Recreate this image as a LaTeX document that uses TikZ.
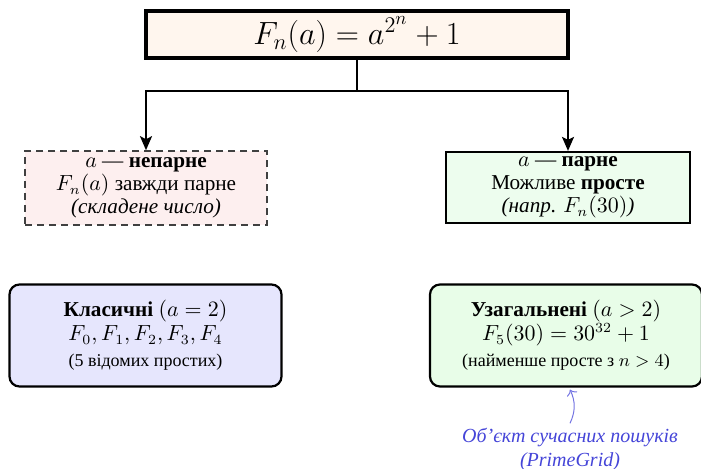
\documentclass[tikz,border=0pt]{standalone}
\usepackage[no-math]{fontspec}
\usepackage{graphicx}
\setmainfont{Liberation Serif}
\usetikzlibrary{arrows.meta,calc}
\definecolor{topfill}{HTML}{FFF6EE}
\definecolor{oddfill}{HTML}{FDEFEF}
\definecolor{evenfill}{HTML}{EDFDEE}
\definecolor{classfill}{HTML}{E6E6FD}
\definecolor{genfill}{HTML}{E8FDE8}
\definecolor{annblue}{HTML}{4545D8}
\tikzset{
  topbox/.style={draw=black, line width=2pt, fill=topfill, minimum width=211pt, minimum height=23.5pt, inner sep=0pt},
  oddbox/.style={draw=black!75, line width=0.8pt, dash pattern=on 3.5pt off 2.5pt, fill=oddfill, minimum width=121pt, minimum height=37pt, align=center, inner sep=0pt},
  evenbox/.style={draw=black, line width=1.1pt, fill=evenfill, minimum width=122pt, minimum height=35.5pt, align=center, inner sep=0pt},
  resbox/.style={draw=black, line width=1.1pt, rounded corners=5pt, minimum width=136pt, minimum height=51pt, align=center, inner sep=0pt},
  conn/.style={line width=1pt, draw=black},
  connarrow/.style={conn, -{Stealth[length=7pt,width=6pt,inset=1.5pt]}},
  annarrow/.style={draw=annblue!75, line width=0.5pt, ->},
  anntext/.style={text=annblue, align=center, font=\fontsize{10}{11}\selectfont\itshape, inner sep=0pt},
  bodyfont/.style={font=\fontsize{10.6}{12}\selectfont}
}
\begin{document}
\begin{tikzpicture}[x=0.5pt,y=-0.5pt]
\useasboundingbox (0,0) rectangle (701,469);
\node[topbox] (top) at (357,34.5) {\scalebox{0.93}{\LARGE $F_n(a) = a^{2^n} + 1$}};
\node[oddbox, bodyfont] (odd) at (146,188) {$a$ --- \textbf{непарне}\\[-0.5pt] $F_n(a)$ завжди парне\\[-0.5pt] \textit{(складене число)}};
\node[evenbox, bodyfont] (even) at (568,187.5) {$a$ --- \textbf{парне}\\[-0.5pt] Можливе \textbf{просте}\\[-0.5pt] \textit{(напр. $F_n(30)$)}};
\node[resbox, fill=classfill, bodyfont] (cls) at (145.5,335.5) {\textbf{Класичні} $(a=2)$\\[0pt] $F_0, F_1, F_2, F_3, F_4$\\[1pt] {\fontsize{9}{10}\selectfont (5 відомих простих)}};
\node[resbox, fill=genfill, bodyfont] (gen) at (566,335.5) {\textbf{Узагальнені} $(a>2)$\\[0pt] $F_5(30) = 30^{32} + 1$\\[1pt] {\fontsize{9}{10}\selectfont (найменше просте з $n>4$)}};
\node[anntext] (ann) at (570,449) {Об’єкт сучасних пошуків\\[1pt] (PrimeGrid)};
\coordinate (j) at (357,91);
\draw[conn] (top.south) -- (j);
\draw[connarrow] (j) -| (odd.north);
\draw[connarrow] (j) -| (even.north);
\coordinate (annend) at (gen.south -| ann.north);
\draw[annarrow] ([yshift=2pt]ann.north) to[bend right=25] ([yshift=-1pt]annend);
\end{tikzpicture}
\end{document}
